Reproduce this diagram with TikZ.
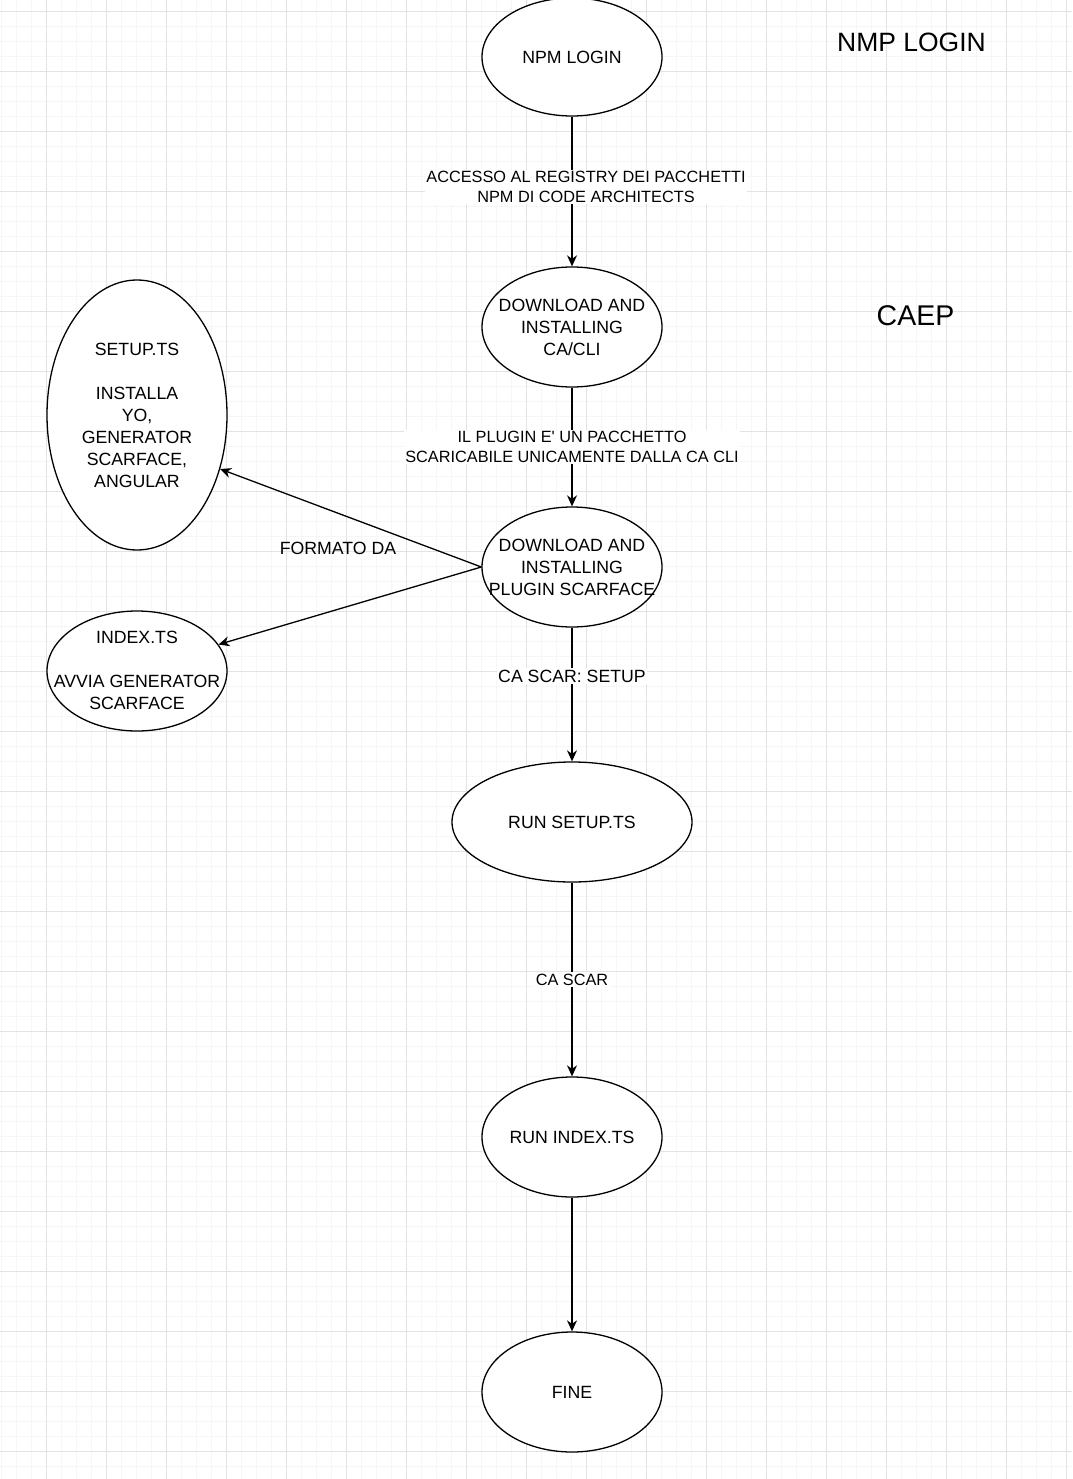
\documentclass[tikz,border=0pt]{standalone}
\usepackage{fontspec}
\setmainfont{Liberation Sans}
\newfontfamily\plainquote{Liberation Sans}
\usetikzlibrary{shapes.geometric,arrows.meta}
\definecolor{gridmajor}{HTML}{E3E3E3}
\definecolor{gridminor}{HTML}{F6F6F6}
\begin{document}
\begin{tikzpicture}[x=1pt,y=-1pt,
  shape ellipse/.style={ellipse, draw=black, line width=1.3pt, fill=white, inner sep=0pt},
  nodetext/.style={align=center, inner sep=0pt, font=\fontsize{17.7}{22}\selectfont},
  lbl/.style={fill=white, align=center, inner sep=1.5pt, font=\fontsize{16.3}{20}\selectfont},
  bigtitle/.style={inner sep=0pt, font=\fontsize{26.5}{30}\selectfont},
  edge/.style={draw=black, line width=1.3pt, -{Stealth[length=11pt,width=10pt,inset=3.5pt]}},
  minorline/.style={draw=gridminor, line width=1pt},
  majorline/.style={draw=gridmajor, line width=1pt}]
\fill[white] (0,0) rectangle (1072,1479);
\useasboundingbox (0,0) rectangle (1072,1479);
\clip (0,0) rectangle (1072,1479);
% grid
\foreach \x in {1.7,16.7,...,1072} \draw[minorline] (\x,0) -- (\x,1479);
\foreach \y in {-3.3,11.7,...,1479} \draw[minorline] (0,\y) -- (1072,\y);
\foreach \x in {-13.3,46.7,...,1072} \draw[majorline] (\x,0) -- (\x,1479);
\foreach \y in {11.7,71.7,...,1479} \draw[majorline] (0,\y) -- (1072,\y);

% titles
\node[bigtitle] (t1) at (911.5,42) {NMP LOGIN};
\node[bigtitle, font=\fontsize{28.5}{32}\selectfont] (t2) at (915.5,316) {CAEP};

% ellipses
\node[shape ellipse, minimum width=180pt, minimum height=118pt] (npm) at (572,57) {};
\node[nodetext] (npmT) at (npm) {NPM LOGIN};
\node[shape ellipse, minimum width=180pt, minimum height=120pt] (cacli) at (572,327) {};
\node[nodetext] (cacliT) at (cacli) {DOWNLOAD AND\\INSTALLING\\CA/CLI};
\node[shape ellipse, minimum width=180pt, minimum height=120pt] (plug) at (572,567) {};
\node[nodetext] (plugT) at (plug) {DOWNLOAD AND\\INSTALLING\\PLUGIN SCARFACE};
\node[shape ellipse, minimum width=240pt, minimum height=120pt] (runsetup) at (572,822) {};
\node[nodetext] (runsetupT) at (runsetup) {RUN SETUP.TS};
\node[shape ellipse, minimum width=180pt, minimum height=120pt] (runindex) at (572,1137) {};
\node[nodetext] (runindexT) at (runindex) {RUN INDEX.TS};
\node[shape ellipse, minimum width=180pt, minimum height=120pt] (fine) at (572,1392) {};
\node[nodetext] (fineT) at (fine) {FINE};
\node[shape ellipse, minimum width=180pt, minimum height=270pt] (setup) at (137,415) {};
\node[nodetext] (setupT) at (137,415.5) {SETUP.TS\\[21.8pt]INSTALLA\\YO,\\GENERATOR\\SCARFACE,\\ANGULAR};
\node[shape ellipse, minimum width=180pt, minimum height=120pt] (index) at (137,671) {};
\node[nodetext] (indexT) at (137,670.5) {INDEX.TS\\[21.8pt]AVVIA GENERATOR\\SCARFACE};

% connectors
\draw[edge] (npm) -- node[lbl, pos=0.47, xshift=14pt] (l1) {ACCESSO AL REGISTRY DEI PACCHETTI\\NPM DI CODE ARCHITECTS} (cacli);
\draw[edge] (cacli) -- node[lbl, pos=0.5] (l2) {IL PLUGIN E{\plainquote'} UN PACCHETTO\\SCARICABILE UNICAMENTE DALLA CA CLI} (plug);
\draw[edge] (plug.west) -- node[pos=0.549, yshift=-35pt, inner sep=0pt, font=\fontsize{17.7}{22}\selectfont] (l3) {FORMATO DA} (setup.-33);
\draw[edge] (plug.west) -- (index.18);
\draw[edge] (plug) -- node[lbl, pos=0.363, font=\fontsize{17.7}{22}\selectfont] (l4) {CA SCAR: SETUP} (runsetup);
\draw[edge] (runsetup) -- node[lbl, pos=0.5] (l5) {CA SCAR} (runindex);
\draw[edge] (runindex) -- (fine);
\end{tikzpicture}
\end{document}
